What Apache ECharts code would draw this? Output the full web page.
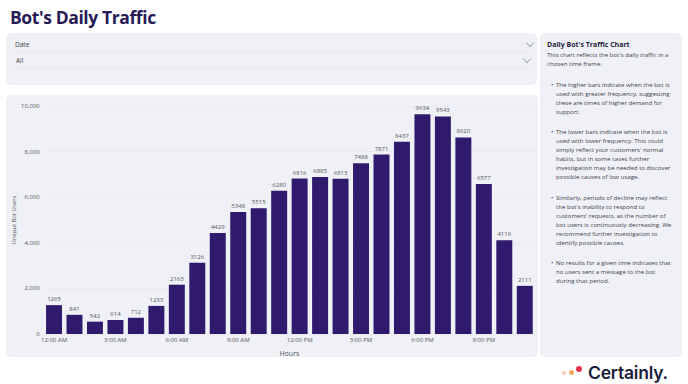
<!DOCTYPE html>
<html>
<head>
<meta charset="utf-8">
<script src="https://cdn.jsdelivr.net/npm/echarts@6/dist/echarts.min.js"></script>
<style>
  html, body { margin: 0; padding: 0; width: 688px; height: 384px; background: #ffffff; overflow: hidden; font-family: "Open Sans", "Noto Sans", sans-serif; }
  .abs { position: absolute; }
  #title { left: 10px; top: 5px; font-size: 17.5px; font-weight: 700; color: #271b57; letter-spacing: -0.4px; white-space: nowrap; }
  .panel { background: #eff1f6; border-radius: 5px; }
  #filter { left: 6px; top: 33px; width: 531px; height: 52px; }
  #chartPanel { left: 6px; top: 95px; width: 532px; height: 262px; }
  #side { left: 540px; top: 33px; width: 142px; height: 324px; }
  .ftxt { font-size: 6.5px; color: #444; white-space: nowrap; }
  .sep { height: 1px; background: #e5e8ef; }
  .chev { width: 5px; height: 5px; border-right: 1px solid #a6abb7; border-bottom: 1px solid #a6abb7; transform: rotate(45deg); }
  #chart { left: 0px; top: 95px; width: 538px; height: 262px; }
  #sideTitle { left: 547px; top: 40px; font-size: 7px; font-weight: 700; color: #1f1d3d; white-space: nowrap; }
  .line { position: absolute; font-size: 6.1px; color: #3f3f4a; white-space: nowrap; line-height: 8px; }
  #logo { left: 588px; top: 364px; font-family: Inter, Lato, sans-serif; font-size: 17.5px; font-weight: 600; color: #1c1c3a; letter-spacing: -0.2px; white-space: nowrap; line-height: 17px; }
  .dot { position: absolute; border-radius: 50%; }
</style>
</head>
<body>
<div id="title" class="abs">Bot's Daily Traffic</div>

<div id="filter" class="abs panel"></div>
<div class="abs ftxt" style="left:15px;top:40px;">Date</div>
<div class="abs sep" style="left:12px;top:52px;width:519px;"></div>
<div class="abs chev" style="left:527px;top:40px;"></div>
<div class="abs ftxt" style="left:16px;top:56px;">All</div>
<div class="abs sep" style="left:12px;top:68px;width:519px;"></div>
<div class="abs chev" style="left:524px;top:56px;"></div>

<div id="chartPanel" class="abs panel"></div>
<div id="chart" class="abs"></div>

<div id="side" class="abs panel"></div>
<div id="sideTitle" class="abs">Daily Bot's Traffic Chart</div>
<div id="sideText"></div>

<div class="dot" style="left:562px;top:371px;width:4px;height:4px;background:#f6cdb6;"></div>
<div class="dot" style="left:569px;top:370px;width:5px;height:5px;background:#f2a85c;"></div>
<div class="dot" style="left:576px;top:366px;width:6px;height:6px;background:#e6334f;"></div>
<div id="logo" class="abs">Certainly.</div>

<script>
// ---- Data ----
const hours = ["12:00 AM","1:00 AM","2:00 AM","3:00 AM","4:00 AM","5:00 AM","6:00 AM","7:00 AM","8:00 AM","9:00 AM","10:00 AM","11:00 AM",
               "12:00 PM","1:00 PM","2:00 PM","3:00 PM","4:00 PM","5:00 PM","6:00 PM","7:00 PM","8:00 PM","9:00 PM","10:00 PM","11:00 PM"];
const uniqueBotUsers = [1265, 841, 542, 614, 712, 1233, 2163, 3126, 4429, 5348, 5515, 6280,
                        6816, 6885, 6813, 7488, 7871, 8437, 9634, 9543, 8620, 6577, 4116, 2111];
const yTicks = [0, 2000, 4000, 6000, 8000, 10000];

const introLines = ["This chart reflects the bot's daily traffic in a", "chosen time frame."];
const bullets = [
  ["The higher bars indicate when the bot is", "used with greater frequency, suggesting", "these are times of higher demand for", "support."],
  ["The lower bars indicate when the bot is", "used with lower frequency. This could", "simply reflect your customers' normal", "habits, but in some cases further", "investigation may be needed to discover", "possible causes of low usage."],
  ["Similarly, periods of decline may reflect", "the bot's inability to respond to", "customers' requests, as the number of", "bot users is continuously decreasing. We", "recommend further investigation to", "identify possible causes."],
  ["No results for a given time indicates that", "no users sent a message to the bot", "during that period."]
];

// ---- Side text ----
const side = document.getElementById('sideText');
function addLine(txt, x, y) {
  const d = document.createElement('div');
  d.className = 'line';
  d.style.left = x + 'px';
  d.style.top = y + 'px';
  d.textContent = txt;
  side.appendChild(d);
}
let y = 51;
introLines.forEach(t => { addLine(t, 547, y); y += 9; });
y += 11.5;
bullets.forEach(b => {
  addLine('•', 551, y);
  b.forEach(t => { addLine(t, 556, y); y += 9; });
  y += 11.5;
});

// ---- Chart ----
const chart = echarts.init(document.getElementById('chart'), null, { renderer: 'svg' });
chart.setOption({
  backgroundColor: 'transparent',
  animation: false,
  textStyle: { fontFamily: '"Open Sans", "Noto Sans", sans-serif' },
  grid: { left: 43.8, right: 3, top: 11, bottom: 23, containLabel: false, outerBoundsMode: 'none' },
  xAxis: {
    type: 'category',
    data: hours,
    name: 'Hours',
    nameLocation: 'middle',
    nameGap: 16,
    nameMoveOverlap: false,
    nameTextStyle: { fontSize: 7, color: '#555' },
    axisLine: { show: false },
    axisTick: { show: false },
    axisLabel: { interval: 2, fontSize: 6, color: '#555', margin: 3 }
  },
  yAxis: {
    type: 'value',
    min: yTicks[0],
    max: yTicks[yTicks.length - 1],
    interval: yTicks[1] - yTicks[0],
    name: 'Unique Bot Users',
    nameLocation: 'middle',
    nameGap: 30,
    nameMoveOverlap: false,
    nameTextStyle: { fontSize: 6, color: '#555', verticalAlign: 'middle' },
    axisLine: { show: false },
    axisTick: { show: false },
    axisLabel: { fontSize: 6, color: '#555', margin: 4, formatter: v => v.toLocaleString('en-US') },
    splitLine: { lineStyle: { color: '#e6e8ef', width: 0.6 } }
  },
  series: [{
    type: 'bar',
    data: uniqueBotUsers,
    barCategoryGap: '22%',
    itemStyle: { color: '#2f1a6e' },
    label: { show: true, position: 'top', distance: 3, fontSize: 6, color: '#555' }
  }]
});
</script>
</body>
</html>
